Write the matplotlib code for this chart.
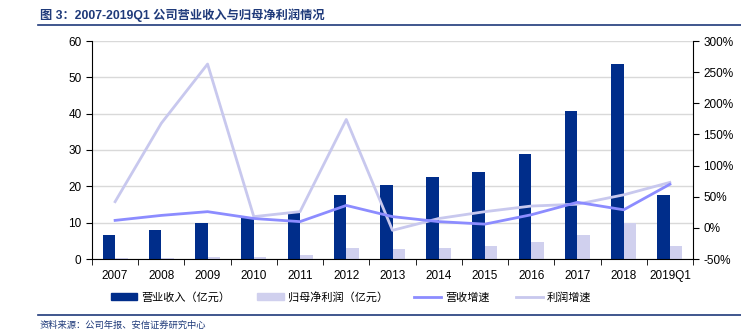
import matplotlib
matplotlib.use('Agg')
import matplotlib.pyplot as plt
import numpy as np
from matplotlib.lines import Line2D

plt.rcParams['font.family'] = ['Liberation Sans', 'Noto Sans CJK SC', 'DejaVu Sans']

years = ['2007', '2008', '2009', '2010', '2011', '2012', '2013', '2014',
         '2015', '2016', '2017', '2018', '2019Q1']
revenue = [6.7, 8.0, 10.0, 11.4, 12.7, 17.6, 20.3, 22.7, 23.9, 28.9, 40.8, 53.6, 17.6]
profit = [0.3, 0.3, 0.6, 0.6, 1.0, 3.0, 2.7, 3.0, 3.6, 4.7, 6.6, 10.0, 3.6]
rev_growth = [12, 20, 26, 15, 10, 36, 18, 10, 6, 21, 41, 29, 70]
profit_growth = [42, 168, 263, 18, 26, 174, -4, 15, 26, 35, 38, 53, 73]

navy = '#002D8A'
lav = '#D0D0EE'
line1 = '#8C8CFF'
line2 = '#C8C8EE'
title_blue = '#1F3A7A'

fig = plt.figure(figsize=(7.41, 3.35), dpi=100)
ax = fig.add_axes([92/741, 1-259/335, 601/741, 218/335])
ax2 = ax.twinx()

x = np.arange(len(years))
w = 0.27
ax.bar(x - w/2, revenue, w, color=navy, zorder=2)
ax.bar(x + w/2, profit, w, color=lav, zorder=2)

ax2.plot(x, profit_growth, color=line2, lw=2, zorder=3)
ax2.plot(x, rev_growth, color=line1, lw=2, zorder=4)

ax.set_xlim(-0.5, len(years) - 0.5)
ax.set_ylim(0, 60)
ax.set_yticks(range(0, 61, 10))
ax2.set_ylim(-50, 300)
ax2.set_yticks(range(-50, 301, 50))
ax2.set_yticklabels([f'{v}%' for v in range(-50, 301, 50)])

ax.yaxis.grid(True, color='#D9D9D9', lw=1, zorder=0)
ax.set_axisbelow(True)

ax.set_xticks(x)
ax.set_xticklabels(years)
ax.set_xticks(np.arange(-0.5, len(years)), minor=True)
ax.tick_params(axis='x', which='major', length=0, labelsize=8.5, pad=8)
ax.tick_params(axis='x', which='minor', length=4, direction='out')
ax.tick_params(axis='y', length=4, labelsize=8.5)
ax2.tick_params(axis='y', length=4, labelsize=8.5)

for a in (ax, ax2):
    a.spines['top'].set_visible(False)
ax.spines['right'].set_visible(False)
ax2.spines['left'].set_visible(False)
ax2.spines['bottom'].set_visible(False)

handles = [
    plt.Rectangle((0, 0), 1, 1, color=navy),
    plt.Rectangle((0, 0), 1, 1, color=lav),
    Line2D([0], [0], color=line1, lw=2),
    Line2D([0], [0], color=line2, lw=2),
]
labels = ['营业收入（亿元）', '归母净利润（亿元）', '营收增速', '利润增速']
fig.legend(handles, labels, ncol=4, frameon=False, loc='center',
           bbox_to_anchor=(351/741, 0.113), handlelength=2.4,
           handleheight=0.6, handletextpad=0.35, columnspacing=2.4,
           prop={'family': ['Noto Sans CJK SC'], 'size': 8})

fig.text(40/741, 1-15/335, '图 3：2007-2019Q1 公司营业收入与归母净利润情况',
         fontsize=8.8, fontweight='bold', color=title_blue, va='center',
         family=['Liberation Sans', 'Noto Sans CJK SC'])
fig.add_artist(Line2D([38/741, 1], [1-25/335, 1-25/335], color=title_blue, lw=1.2))
fig.add_artist(Line2D([38/741, 1], [1-315/335, 1-315/335], color=title_blue, lw=1.2))
fig.text(40/741, 1-325/335, '资料来源：公司年报、安信证券研究中心',
         fontsize=6.7, color=title_blue, style='italic', va='center',
         family=['Noto Sans CJK SC'])

fig.savefig('out.png', dpi=100)
